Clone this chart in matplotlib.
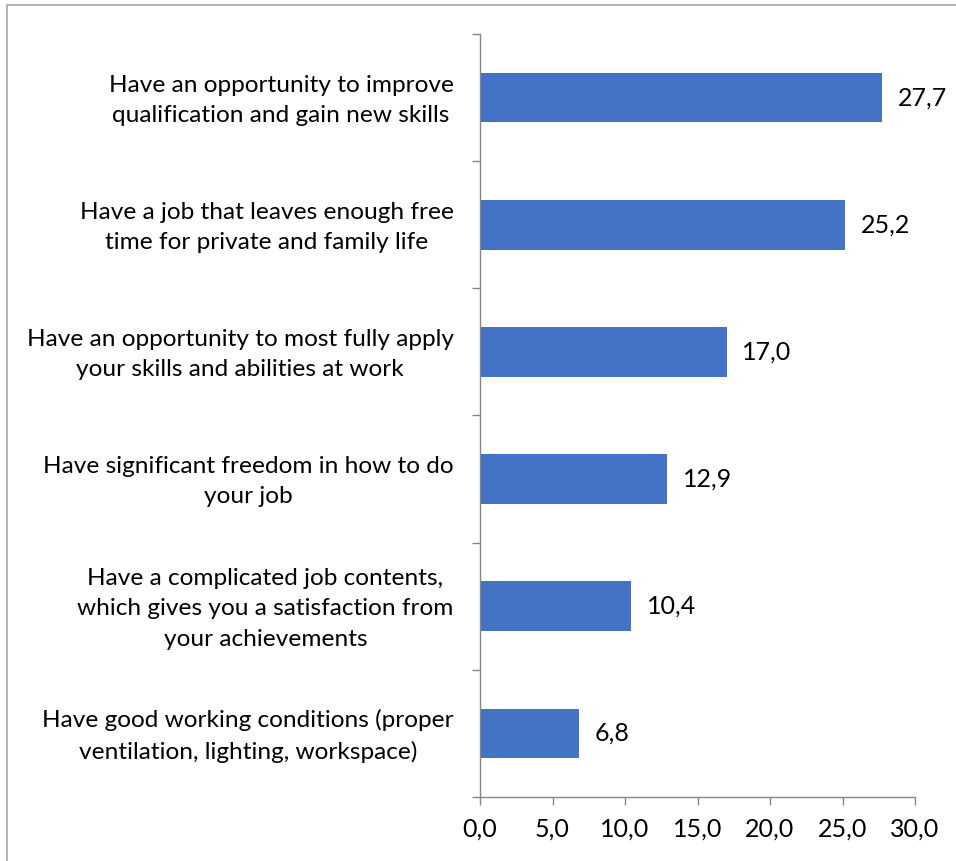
import matplotlib
matplotlib.use("Agg")
import matplotlib.pyplot as plt
from matplotlib.patches import Rectangle
from matplotlib.transforms import ScaledTranslation
import numpy as np

categories = [
    "Have an opportunity to improve\nqualification and gain new skills",
    "Have a job that leaves enough free\ntime for private and family life",
    "Have an opportunity to most fully apply\nyour skills and abilities at work",
    "Have significant freedom in how to do\nyour job",
    "Have a complicated job contents,\nwhich gives you a satisfaction from\nyour achievements",
    "Have good working conditions (proper\nventilation, lighting, workspace)",
]
values = [27.7, 25.2, 17.0, 12.9, 10.4, 6.8]
xticks = [0, 5, 10, 15, 20, 25, 30]

plt.rcParams['font.family'] = ['Lato', 'DejaVu Sans']
FS = 17.6
FSN = 18

fig = plt.figure(figsize=(9.56, 8.61), dpi=100)
ax = fig.add_axes([480/956, 1-797/861, 435/956, (797-34)/861])

n = len(categories)
ypos = np.arange(n)[::-1]
ax.barh(ypos, values, height=0.39, color="#4472C4")
ax.set_ylim(-0.5, n-0.5)
ax.set_xlim(0, 30)

for y, v in zip(ypos, values):
    ax.text(v + 1.1, y, f"{v:.1f}".replace(".", ","), va="center", ha="left",
            fontsize=FSN, color="#000000")

ax.set_yticks(ypos)
ax.set_yticklabels(categories, fontsize=FS, multialignment="center", linespacing=1.55)
ax.tick_params(axis="y", which="major", length=0, pad=19)
ax.set_yticks(np.arange(-0.5, n, 1), minor=True)
ax.tick_params(axis="y", which="minor", length=6, width=1, color="#868686", direction="out")
shift = ScaledTranslation(0, 4/100, fig.dpi_scale_trans)
for lab in ax.get_yticklabels():
    lab.set_transform(lab.get_transform() + shift)

ax.set_xticks(xticks)
ax.set_xticklabels([f"{t:.1f}".replace(".", ",") for t in xticks], fontsize=FSN)
ax.tick_params(axis="x", length=6, width=1, color="#868686", pad=9)

for s in ["top", "right"]:
    ax.spines[s].set_visible(False)
for s in ["left", "bottom"]:
    ax.spines[s].set_color("#868686")
    ax.spines[s].set_linewidth(1)

fig.patches.append(Rectangle((7/956, -0.1), 1.2, 1.1 - 5/861, transform=fig.transFigure,
                             fill=False, edgecolor="#A6A6A6", linewidth=1.2))

fig.savefig("out.png", dpi=100, facecolor="white")
